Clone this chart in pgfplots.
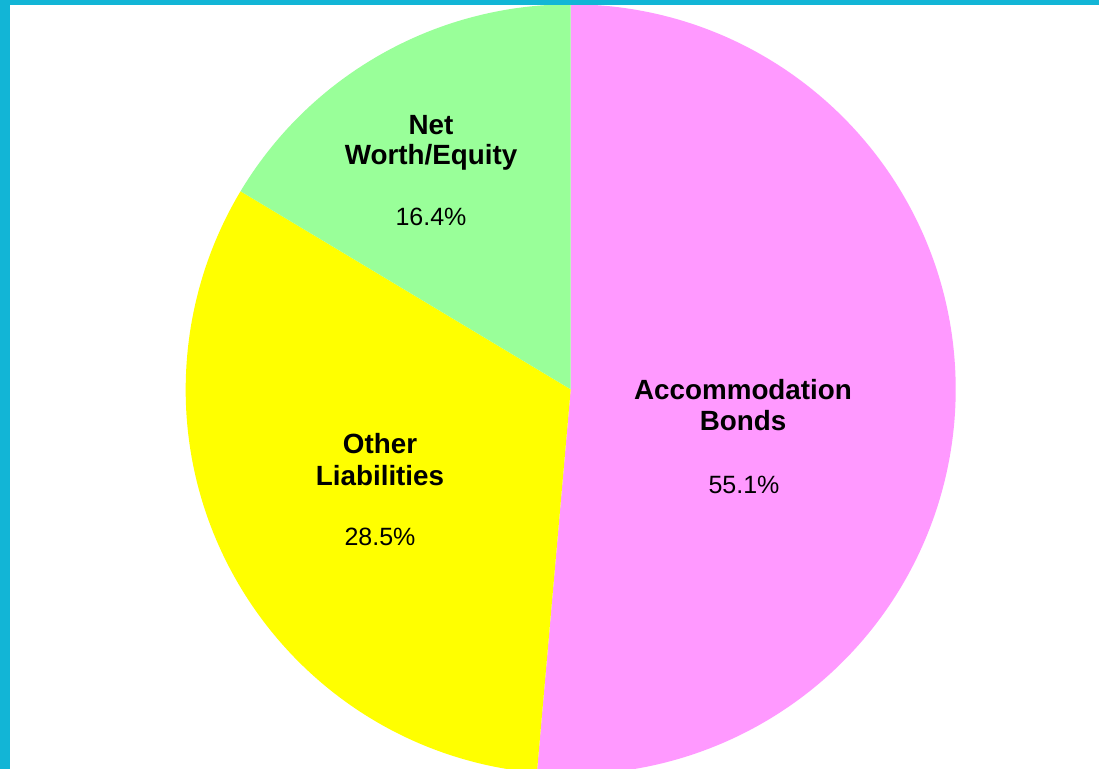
\documentclass[border=0pt]{standalone}
\usepackage{pgfplots}
\usepackage{pgfplotstable}
\pgfplotsset{compat=1.18}
\usepackage{fontspec}
\setmainfont{Liberation Sans}
\definecolor{pinkc}{HTML}{FF99FF}
\definecolor{yellowc}{HTML}{FFFF00}
\definecolor{greenc}{HTML}{99FF99}
\definecolor{framec}{HTML}{12B5D6}

% slice sizes as drawn (percent of the circle), clockwise from 12 o'clock
\pgfplotstableread{
slice value
Accommodation 51.4
Other 32.2
Net 16.4
}\piedata

\begin{document}
\begin{tikzpicture}
\pgfplotstablegetelem{0}{value}\of\piedata \let\va\pgfplotsretval
\pgfplotstablegetelem{1}{value}\of\piedata \let\vb\pgfplotsretval
\pgfplotstablegetelem{2}{value}\of\piedata \let\vc\pgfplotsretval
\pgfmathsetmacro{\aA}{90}
\pgfmathsetmacro{\aB}{90-3.6*\va}
\pgfmathsetmacro{\aC}{\aB-3.6*\vb}
\pgfmathsetmacro{\aD}{\aC-3.6*\vc}
\def\cx{570.7}\def\cy{379.7}\def\rr{385}
\begin{axis}[
  x=1bp, y=1bp,
  xmin=0, xmax=1099, ymin=0, ymax=769,
  scale only axis, hide axis,
  clip=true,
]
\begin{scope}
\clip (axis cs:0,0) rectangle (axis cs:1099,769);
\fill[white] (axis cs:0,0) rectangle (axis cs:1099,769);
\fill[pinkc] (axis cs:\cx,\cy) -- (axis cs:{\cx+\rr*cos(\aA)},{\cy+\rr*sin(\aA)})
  arc[start angle=\aA, end angle=\aB, radius=385bp] -- cycle;
\fill[yellowc] (axis cs:\cx,\cy) -- (axis cs:{\cx+\rr*cos(\aB)},{\cy+\rr*sin(\aB)})
  arc[start angle=\aB, end angle=\aC, radius=385bp] -- cycle;
\fill[greenc] (axis cs:\cx,\cy) -- (axis cs:{\cx+\rr*cos(\aC)},{\cy+\rr*sin(\aC)})
  arc[start angle=\aC, end angle=\aD, radius=385bp] -- cycle;
\fill[framec] (axis cs:0,764) rectangle (axis cs:1099,769);
\fill[framec] (axis cs:0,0) rectangle (axis cs:10,769);
\end{scope}
% labels
\tikzset{lbl/.style={anchor=base, font=\fontsize{27.8bp}{31bp}\selectfont\bfseries},
         pct/.style={anchor=base, font=\fontsize{25bp}{28bp}\selectfont}}
\node[lbl] at (axis cs:743,370) {Accommodation};
\node[lbl] at (axis cs:743,339) {Bonds};
\node[pct] at (axis cs:744,276) {55.1\%};
\node[lbl] at (axis cs:380,316) {Other};
\node[lbl] at (axis cs:380,284) {Liabilities};
\node[pct] at (axis cs:380,224) {28.5\%};
\node[lbl] at (axis cs:431,634) {Net};
\node[lbl] at (axis cs:431,604) {Worth/Equity};
\node[pct] at (axis cs:431,543) {16.4\%};
\end{axis}
\pgfresetboundingbox
\path (0,0) rectangle (1099bp,769bp);
\end{tikzpicture}
\end{document}
